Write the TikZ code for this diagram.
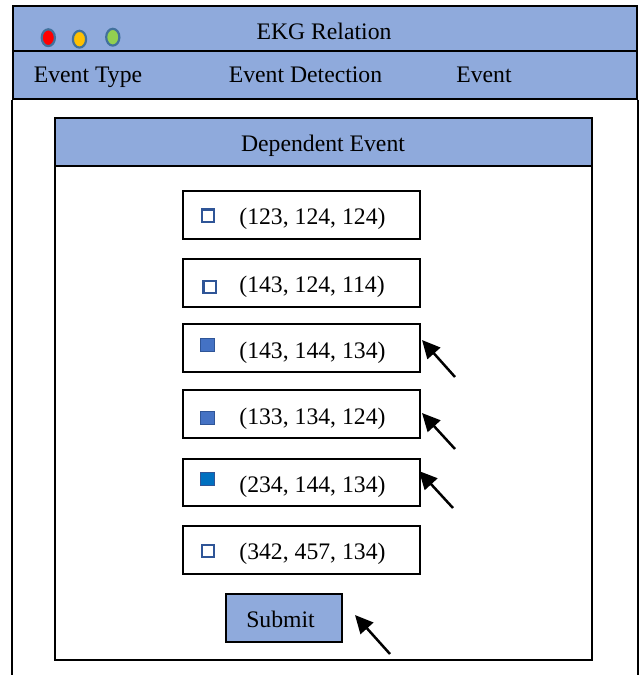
\documentclass[tikz,border=0pt]{standalone}
\usepackage{fontspec}
\setmainfont{Liberation Serif}
\usetikzlibrary{arrows.meta,calc,shapes.geometric}
\definecolor{barblue}{HTML}{8FAADC}
\definecolor{boxedge}{HTML}{2F5597}
\definecolor{boxfill}{HTML}{4472C4}
\definecolor{boxfillB}{HTML}{0070C0}
\definecolor{dotedge}{HTML}{41719C}
\definecolor{dotred}{HTML}{FF0000}
\definecolor{dotyellow}{HTML}{FFC000}
\definecolor{dotgreen}{HTML}{92D050}
\begin{document}
\begin{tikzpicture}[x=0.5pt,y=-0.5pt,
  font=\fontsize{11.85}{14}\selectfont,
  frame/.style={draw=black,line width=1pt,inner sep=0pt},
  bar/.style={frame,fill=barblue},
  row/.style={frame,fill=white,minimum width=118.75pt,minimum height=24pt},
  lbl/.style={inner sep=0pt,anchor=base},
  val/.style={inner sep=0pt,anchor=base west},
  tick/.style={draw=boxedge,line width=1.2pt,fill=white,minimum size=6.2pt,inner sep=0pt},
  ticked/.style={draw=boxedge,line width=0.6pt,fill=boxfill,minimum size=6.8pt,inner sep=0pt},
  dot/.style={draw=dotedge,line width=1.1pt,ellipse,minimum width=6.6pt,minimum height=8.4pt,inner sep=0pt},
  pointer/.style={line width=1.25pt,-{Triangle[length=9pt,width=8.5pt]}}]
\useasboundingbox (0,0) rectangle (641,675);

% application window: title bar, menu bar and side edges
\node[bar,minimum width=312.25pt,minimum height=22.5pt] (title) at (324.75,28.5) {};
\node[bar,minimum width=312.25pt,minimum height=23.75pt] (menu) at (324.75,74.75) {};
\coordinate (pagebottom) at (0,675);
\draw[line width=1pt] (menu.south west) -- (menu.south west |- pagebottom);
\draw[line width=1pt] (menu.south east) -- (menu.south east |- pagebottom);

\node[dot,fill=dotred] (close) at (48.3,37.7) {};
\node[dot,fill=dotyellow] (minimize) at (79.5,39.2) {};
\node[dot,fill=dotgreen] (maximize) at (112.8,37.2) {};
\node[lbl] (titletext) at (324,39) {EKG Relation};

\node[lbl] (m1) at (88,82) {Event Type};
\node[lbl] (m2) at (305.5,82) {Event Detection};
\node[lbl] (m3) at (484,82) {Event};

% dependent event panel
\node[frame,fill=white,minimum width=268.5pt,minimum height=271pt] (panel) at (323.5,389) {};
\node[bar,minimum width=268.5pt,minimum height=24pt] (head) at (323.5,142) {};
\node[lbl] (headtext) at (323,151) {Dependent Event};

% candidate tuples
\node[row] (r1) at (301.25,215) {};
\node[row] (r2) at (301.25,283) {};
\node[row] (r3) at (301.25,348) {};
\node[row] (r4) at (301.25,414) {};
\node[row,minimum height=23.5pt] (r5) at (301.25,482.5) {};
\node[row] (r6) at (301.25,550) {};

\node[tick] (c1) at (208,215.7) {};
\node[tick] (c2) at (209.5,287) {};
\node[ticked] (c3) at (207.5,345) {};
\node[ticked] (c4) at (207.5,418) {};
\node[ticked,fill=boxfillB] (c5) at (207.5,479) {};
\node[tick] (c6) at (208,551) {};

\node[val] (t1) at (239,224.5) {(123, 124, 124)};
\node[val] (t2) at (239,292.5) {(143, 124, 114)};
\node[val] (t3) at (239,358) {(143, 144, 134)};
\node[val] (t4) at (239,424) {(133, 134, 124)};
\node[val] (t5) at (239,492) {(234, 144, 134)};
\node[val] (t6) at (239,559) {(342, 457, 134)};

% submit button
\node[bar,minimum width=58pt,minimum height=24pt] (submit) at (284,618) {};
\node[lbl] (submittext) at (280.5,627) {Submit};

% pointers to the selected tuples and the button
\coordinate (p3) at (455,377);
\coordinate (p4) at (455,449);
\coordinate (p5) at (453,508);
\coordinate (ps) at (390,654);
\draw[pointer] (p3) -- ([shift={(1,-8)}]r3.east);
\draw[pointer] (p4) -- ([shift={(1,-1)}]r4.east);
\draw[pointer] (p5) -- ([shift={(-2,-11.5)}]r5.east);
\draw[pointer] (ps) -- ([shift={(12,-3)}]submit.east);
\end{tikzpicture}
\end{document}
